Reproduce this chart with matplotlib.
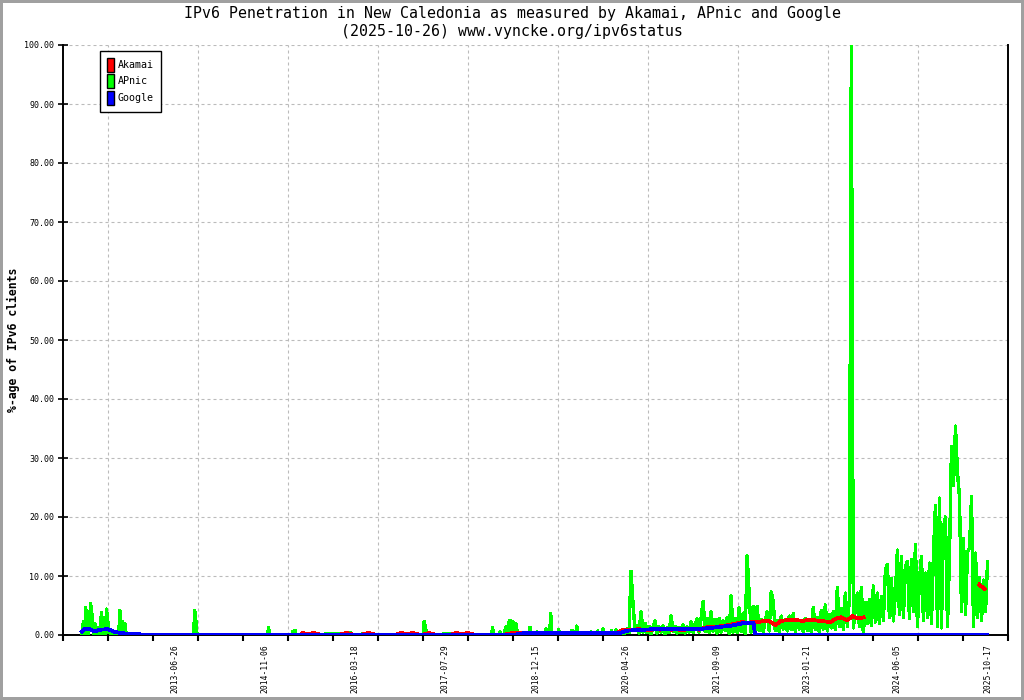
import matplotlib
matplotlib.use('Agg')
import matplotlib.pyplot as plt
import matplotlib.dates as mdates
from matplotlib.patches import Patch
from matplotlib.ticker import FormatStrFormatter
import numpy as np
import pandas as pd

plt.rcParams['font.family'] = ['DejaVu Sans Mono', 'DejaVu Sans']

# date labels on the x axis
label_dates = ['2013-06-26', '2014-11-06', '2016-03-18', '2017-07-29', '2018-12-15',
               '2020-04-26', '2021-09-09', '2023-01-21', '2024-06-05', '2025-10-17']

# APnic, sparse period (date, value)
apnic_early_dates = [
    '2012-01-28', '2012-02-05', '2012-02-12', '2012-02-18', '2012-02-25', '2012-03-05',
    '2012-03-16', '2012-03-25', '2012-04-01', '2012-04-07', '2012-04-14', '2012-04-20',
    '2012-05-04', '2012-05-10', '2012-05-16', '2012-05-22', '2012-06-06', '2012-06-12',
    '2012-06-19', '2012-06-26', '2012-07-15', '2012-08-19', '2012-08-25', '2012-09-01',
    '2012-09-09', '2012-09-15', '2012-09-21', '2012-09-28', '2012-10-20', '2013-10-07',
    '2013-10-13', '2013-10-20', '2013-10-26', '2014-11-20', '2014-11-26', '2014-12-02',
    '2015-04-04', '2015-04-10', '2015-04-21', '2015-04-27', '2015-07-13', '2015-07-20',
    '2015-12-26', '2016-01-02', '2016-02-25', '2016-03-03', '2016-06-26', '2016-07-03',
    '2017-03-30', '2017-04-05', '2017-04-13', '2017-04-20', '2017-10-20', '2017-10-27',
    '2018-04-12', '2018-04-18', '2018-04-24', '2018-05-23', '2018-05-29', '2018-06-04',
    '2018-06-20', '2018-06-26', '2018-07-04', '2018-07-12', '2018-07-18', '2018-07-24',
    '2018-07-30', '2018-08-06', '2018-08-12', '2018-08-18', '2018-08-24', '2018-08-30',
    '2018-09-05', '2018-11-05', '2018-11-11', '2018-11-17', '2018-12-12', '2018-12-18',
    '2018-12-24', '2019-02-02', '2019-02-08', '2019-02-14', '2019-02-28', '2019-03-06',
    '2019-03-12', '2019-04-13', '2019-04-19', '2019-04-25', '2019-06-26', '2019-07-02',
    '2019-07-08', '2019-07-22', '2019-07-28', '2019-08-03', '2019-10-09', '2019-10-15',
    '2019-10-21', '2019-11-15', '2019-11-21', '2019-11-27', '2019-12-14', '2019-12-20',
    '2019-12-26', '2020-01-31', '2020-02-06', '2020-02-12', '2020-02-24', '2020-03-01',
    '2020-03-07', '2020-03-23']
apnic_early = [
    0.0, 2.3, 0.2, 4.6, 0.3, 0.2,
    5.3, 3.1, 0.2, 2.0, 1.4, 0.1,
    0.2, 2.0, 3.8, 0.3, 0.2, 4.4,
    2.3, 0.4, 0.3, 0.2, 4.2, 0.3,
    2.3, 0.8, 2.0, 0.3, 0.1, 0.0,
    4.2, 2.2, 0.0, 0.0, 1.2, 0.0,
    0.0, 0.6, 0.8, 0.0, 0.3, 0.0,
    0.3, 0.0, 0.4, 0.0, 0.3, 0.0,
    0.0, 2.3, 1.0, 0.0, 0.3, 0.0,
    0.0, 1.2, 0.0, 0.0, 0.5, 0.0,
    0.0, 0.8, 1.5, 0.3, 2.1, 2.5,
    0.4, 2.3, 2.0, 0.5, 2.0, 1.0,
    0.0, 0.0, 1.3, 0.0, 0.0, 0.5,
    0.0, 0.0, 1.0, 0.0, 0.0, 3.6,
    0.0, 0.0, 0.9, 0.0, 0.0, 0.8,
    0.0, 0.0, 1.5, 0.0, 0.0, 0.5,
    0.0, 0.0, 0.7, 0.0, 0.0, 1.0,
    0.0, 0.0, 0.7, 0.0, 0.0, 0.9,
    0.0, 0.4]

# APnic, dense period 2020-04-20 .. 2025-10-17 (evenly spaced samples)
apnic_recent_start = '2020-04-20'
apnic_recent_end = '2025-10-17'
apnic_recent = [
    0.3, 1.0, 0.4, 10.8, 5.4, 0.8, 1.6, 0.3, 3.9, 0.5,
    2.0, 0.4, 1.5, 0.2, 1.3, 2.4, 0.3, 1.4, 0.5, 1.6,
    0.2, 1.2, 0.4, 3.2, 0.6, 1.5, 0.3, 1.3, 0.4, 1.7,
    0.3, 1.4, 0.5, 2.2, 0.4, 1.8, 2.7, 0.5, 2.9, 5.7,
    0.6, 2.8, 0.4, 3.9, 0.7, 2.6, 0.3, 2.8, 0.5, 2.4,
    0.8, 3.0, 0.3, 6.6, 0.5, 2.8, 0.4, 4.6, 0.6, 3.7,
    0.3, 13.4, 6.8, 0.5, 4.8, 0.7, 4.8, 0.8, 2.6, 0.6,
    2.4, 3.9, 0.7, 7.3, 5.6, 0.8, 2.5, 0.6, 3.2, 1.0,
    2.6, 0.7, 3.2, 0.9, 3.6, 0.6, 2.3, 1.0, 2.4, 0.5,
    2.8, 0.8, 2.5, 0.6, 4.6, 0.9, 3.0, 0.4, 4.2, 1.0,
    5.1, 0.7, 3.5, 1.2, 4.0, 0.9, 8.0, 1.4, 4.5, 1.0,
    7.1, 1.5, 5.9, 100.0, 1.2, 4.5, 7.1, 1.5, 8.0, 0.2,
    5.5, 2.0, 6.0, 1.6, 8.3, 2.2, 7.1, 2.0, 6.5, 2.5,
    11.0, 12.0, 3.0, 9.6, 2.4, 7.1, 14.4, 3.5, 13.3, 3.0,
    11.6, 12.5, 2.8, 12.8, 4.0, 15.3, 1.5, 9.3, 13.3, 2.5,
    10.5, 3.0, 12.2, 2.0, 13.8, 22.0, 1.4, 23.2, 1.2, 18.3,
    20.0, 1.5, 13.0, 31.9, 25.4, 35.4, 27.5, 23.4, 4.0, 16.4,
    3.5, 14.1, 14.7, 23.4, 1.4, 13.9, 3.0, 9.8, 2.5, 9.3,
    4.0, 12.4]

# Akamai, monthly from 2015-06
akamai_start = '2015-06-01'
akamai = [
    0.35, 0.1, 0.35, 0.1, 0.1, 0.1, 0.1, 0.1, 0.35, 0.1,
    0.1, 0.1, 0.35, 0.1, 0.1, 0.1, 0.1, 0.1, 0.35, 0.1,
    0.35, 0.1, 0.1, 0.35, 0.1, 0.1, 0.1, 0.1, 0.35, 0.1,
    0.35, 0.1, 0.1, 0.1, 0.1, 0.1, 0.1, 0.1, 0.3, 0.3,
    0.3, 0.3, 0.3, 0.3, 0.3, 0.3, 0.3, 0.3, 0.3, 0.3,
    0.3, 0.3, 0.3, 0.3, 0.3, 0.3, 0.3, 0.3, 0.8, 0.9,
    0.8, 1.0, 0.9, 0.8, 1.0, 0.9, 1.1, 0.9, 1.0, 0.8,
    1.0, 1.1, 0.9, 1.2, 1.4, 1.3, 1.5, 1.6, 1.8, 2.0,
    2.2, 2.0, 2.3, 2.2, 2.4, 2.3, 1.7, 2.4, 2.5, 2.6,
    2.5, 2.4, 2.6, 2.5, 2.4, 2.3, 2.2, 2.8, 3.0, 2.5,
    3.2, 2.8, 3.0, np.nan, np.nan, np.nan, np.nan, np.nan, np.nan, np.nan,
    np.nan, np.nan, np.nan, np.nan, np.nan, np.nan, np.nan, np.nan, np.nan, np.nan,
    np.nan, np.nan, np.nan, 8.5, 7.8]

# Google (date, value)
google_dates = ['2012-01-28', '2012-02-14', '2012-03-12', '2012-04-09', '2012-05-07',
                '2012-06-20', '2012-07-29', '2012-09-06', '2012-10-21', '2012-12-16',
                '2018-08-30', '2018-10-15', '2020-03-20', '2020-04-26', '2020-06-01',
                '2020-10-01', '2021-06-01', '2021-09-09', '2021-12-01', '2022-02-01',
                '2022-04-01', '2022-04-10', '2025-10-17']
google = [0.6, 1.1, 1.0, 0.6, 0.9,
          1.0, 0.5, 0.3, 0.2, 0.1,
          0.1, 0.35, 0.3, 0.7, 0.8,
          1.0, 1.0, 1.3, 1.6, 2.0,
          2.1, 0.0, 0.0]

apnic_x = pd.to_datetime(apnic_early_dates).append(
    pd.date_range(apnic_recent_start, apnic_recent_end, periods=len(apnic_recent)))
apnic_y = apnic_early + apnic_recent
akamai_x = pd.date_range(akamai_start, periods=len(akamai), freq='MS')
google_x = pd.to_datetime(google_dates)

fig = plt.figure(figsize=(10.24, 7.0), dpi=100)
fig.patch.set_edgecolor('#a0a0a0')
fig.patch.set_linewidth(3)
ax = fig.add_axes([63 / 1024, 65 / 700, 945 / 1024, 590 / 700])

ax.plot(apnic_x, apnic_y, color='#00ff00', lw=1.7, zorder=3, antialiased=False)
ax.plot(akamai_x, akamai, color='#ff0000', lw=2.0, zorder=4, antialiased=False)
ax.plot(google_x, google, color='#0000ff', lw=2.0, zorder=5, antialiased=False)

# axis range: 90 px per 498 days
ref = mdates.date2num(pd.Timestamp('2013-06-26'))
dpp = 498 / 90
xmin, xmax = ref - 112 * dpp, ref + 833 * dpp
ax.set_xlim(xmin, xmax)
ax.set_ylim(0, 100)

ax.set_xticks(mdates.date2num(pd.to_datetime(label_dates)))
ax.set_xticklabels(label_dates, rotation=90)
minor = np.linspace(xmin, xmax, 22)
ax.set_xticks(minor, minor=True)
ax.tick_params(axis='x', which='major', length=0, pad=7, labelsize=5.8)
ax.tick_params(axis='x', which='minor', length=4.5, width=1.5, direction='out')

ax.set_yticks(np.arange(0, 101, 10))
ax.yaxis.set_major_formatter(FormatStrFormatter('%.2f'))
ax.tick_params(axis='y', direction='inout', length=6.5, width=1.2, labelsize=6, pad=3)

dash = (0, (2.7, 2.7))
ax.yaxis.grid(True, linestyle=dash, color='#bbbbbb', lw=0.8)
for xv in minor[1:21:2]:
    ax.axvline(xv, linestyle=dash, color='#bbbbbb', lw=0.8, zorder=1)
ax.set_axisbelow(True)

ax.spines['top'].set_visible(False)
for s in ['left', 'bottom', 'right']:
    ax.spines[s].set_linewidth(1.4)
    ax.spines[s].set_color('black')

handles = [Patch(facecolor='#ff0000', edgecolor='black', lw=1),
           Patch(facecolor='#00ff00', edgecolor='black', lw=1),
           Patch(facecolor='#0000ff', edgecolor='black', lw=1)]
leg = ax.legend(handles, ['Akamai', 'APnic', 'Google'], loc='upper left',
                bbox_to_anchor=(100 / 1024, 1 - 50.5 / 700), bbox_transform=fig.transFigure,
                borderaxespad=0, fontsize=7.2, handlelength=0.7, handleheight=1.8,
                handletextpad=0.4, labelspacing=0.25, borderpad=0.7,
                fancybox=False, framealpha=1, edgecolor='black')
leg.get_frame().set_linewidth(1.0)

fig.text(0.5, 1 - 6 / 700,
         'IPv6 Penetration in New Caledonia as measured by Akamai, APnic and Google\n'
         '(2025-10-26) www.vyncke.org/ipv6status',
         ha='center', va='top', fontsize=10.7, linespacing=1.25)
fig.text(13 / 1024, 1 - 340 / 700, '%-age of IPv6 clients', rotation=90,
         ha='center', va='center', fontsize=8.3, fontweight='bold')

fig.savefig('out.png', dpi=100)
